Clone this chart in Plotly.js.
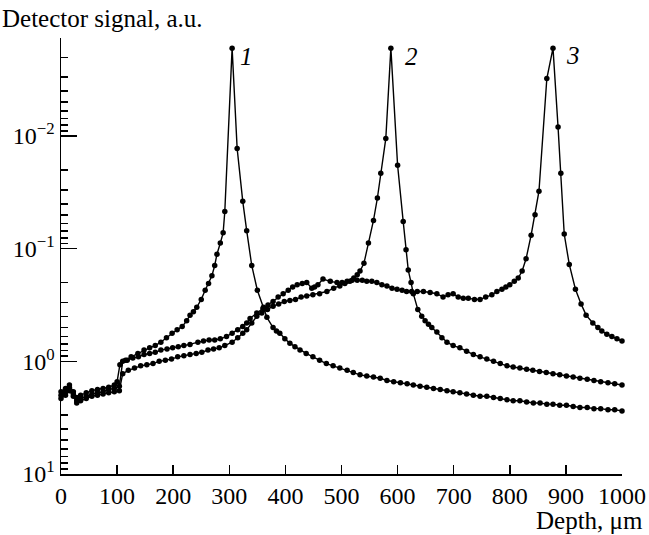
<!DOCTYPE html>
<html>
<head>
<meta charset="utf-8">
<script src="https://cdn.plot.ly/plotly-3.0.1.min.js"></script>
<style>html,body{margin:0;padding:0;background:#fff;}#chart{width:649px;height:535px;}</style>
</head>
<body>
<div id="chart"></div>
<script>
// Curve 1 (focus near 305 um)
const depth1 = [0,8,15,22,28,35,45,55,65,75,85,95,100,105,115,125,137,148,158,168,178,188,198,207,216,224,230,236,242,250,257,263,269,274,278,284,289,292,305,314,324,331,340,350,361,367,378,384,390,399,408,417,426,437,449,461,473,485,497,510,521,533,545,557,569,581,593,605,617,628,640,652,664,676,688,699,711,723,735,747,759,771,783,795,806,818,830,842,854,866,877,889,901,913,925,938,950,962,975,987,1000];
const signal1 = [1.862,1.738,1.622,1.862,2.089,1.995,1.905,1.820,1.778,1.738,
1.698,1.622,1.514,1.072,0.977,0.912,0.851,0.794,0.759,0.724,
0.676,0.617,0.562,0.525,0.490,0.437,0.389,0.363,0.331,0.282,
0.234,0.204,0.174,0.141,0.112,0.0891,0.0724,0.0468,0.00166,0.0129,
0.0380,0.0692,0.141,0.234,0.331,0.407,0.501,0.537,0.562,0.631,
0.692,0.741,0.794,0.851,0.912,0.977,1.047,1.096,1.148,1.202,
1.259,1.318,1.349,1.380,1.413,1.479,1.514,1.549,1.585,1.622,
1.660,1.698,1.738,1.778,1.820,1.862,1.905,1.950,1.995,2.042,
2.042,2.089,2.138,2.188,2.239,2.239,2.291,2.344,2.344,2.399,
2.399,2.455,2.455,2.512,2.570,2.570,2.630,2.630,2.692,2.692,
2.754];

// Curve 2 (focus near 588 um)
const depth2 = [0,8,15,22,28,35,45,55,65,75,85,95,104,110,120,131,142,153,164,175,186,197,208,219,230,241,251,262,272,282,292,305,315,324,331,340,349,358,368,378,388,398,408,418,428,438,449,461,474,486,497,506,515,522,528,533,540,548,557,564,570,579,588,600,610,615,619,624,628,636,643,649,655,661,670,679,688,699,711,723,735,747,759,771,783,795,806,818,830,841,853,865,877,889,901,913,925,938,950,962,975,987,1000];
const signal2 = [2.138,1.995,1.820,2.042,2.344,2.239,2.138,2.042,1.995,1.950,
1.905,1.862,1.820,1.288,1.202,1.148,1.096,1.072,1.047,1.000,
0.977,0.955,0.912,0.891,0.871,0.851,0.832,0.794,0.776,0.759,
0.724,0.676,0.617,0.562,0.525,0.457,0.398,0.372,0.347,0.324,
0.309,0.295,0.288,0.282,0.269,0.263,0.257,0.251,0.240,0.224,
0.214,0.204,0.195,0.182,0.170,0.158,0.135,0.0891,0.0562,0.0355,
0.0214,0.0105,0.00166,0.0182,0.0575,0.102,0.155,0.200,0.251,0.347,
0.398,0.437,0.468,0.501,0.550,0.617,0.676,0.724,0.759,0.813,
0.871,0.912,0.955,1.000,1.047,1.096,1.122,1.148,1.175,1.202,
1.230,1.259,1.288,1.318,1.349,1.380,1.413,1.445,1.479,1.514,
1.549,1.585,1.622];

// Curve 3 (focus near 877 um)
const depth3 = [0,8,15,22,28,35,45,55,65,75,85,95,104,110,118,128,138,148,158,168,178,189,199,209,219,230,244,254,264,274,284,295,305,315,324,331,337,349,360,369,378,387,396,405,413,421,430,438,447,452,458,467,480,492,501,510,519,528,537,545,554,563,572,581,590,599,608,616,625,635,646,658,670,681,690,699,708,717,726,737,747,757,768,777,786,793,800,808,815,822,829,838,845,852,866,877,886,891,897,906,917,927,936,948,957,964,973,982,991,1000];
const signal3 = [1.995,1.862,1.698,1.950,2.239,2.138,2.042,1.950,1.905,1.862,
1.778,1.738,1.660,1.000,0.977,0.933,0.912,0.871,0.851,0.832,
0.794,0.776,0.759,0.741,0.724,0.708,0.676,0.661,0.646,0.646,
0.631,0.603,0.562,0.525,0.490,0.457,0.417,0.372,0.339,0.316,
0.295,0.269,0.251,0.234,0.219,0.209,0.204,0.200,0.224,0.219,
0.209,0.186,0.195,0.200,0.200,0.195,0.191,0.191,0.191,0.195,
0.195,0.200,0.209,0.214,0.224,0.229,0.234,0.240,0.240,0.240,
0.240,0.245,0.251,0.269,0.257,0.251,0.269,0.275,0.275,0.282,
0.282,0.269,0.257,0.240,0.229,0.219,0.209,0.195,0.182,0.158,
0.123,0.0759,0.0501,0.0309,0.00309,0.00166,0.00832,0.0214,0.0741,0.138,
0.229,0.309,0.389,0.457,0.501,0.537,0.575,0.603,0.631,0.661];

const curveLabels = ['1','2','3'];
const labelDepths = [330, 624, 913];
const labelSignal = [0.00195, 0.00195, 0.00191];

const xTickVals = [0,100,200,300,400,500,600,700,800,900,1000];
const yTickVals = [10, 1, 0.1, 0.01];
const yTickText = ['10<sup>1</sup>','10<sup>0</sup>','10<sup>\u22121</sup>','10<sup>\u22122</sup>'];
const yMinorVals = [0.002,0.003,0.004,0.005,0.006,0.007,0.008,0.009,
  0.02,0.03,0.04,0.05,0.06,0.07,0.08,0.09,
  0.2,0.3,0.4,0.5,0.6,0.7,0.8,0.9,
  2,3,4,5,6,7,8,9];

const FONT = 'Liberation Serif, Times New Roman, serif';

function trace(x, y) {
  return {
    x: x, y: y, type: 'scatter', mode: 'lines+markers',
    line: {color: '#000', width: 1.4},
    marker: {color: '#000', size: 5.5, symbol: 'circle'},
    cliponaxis: false, showlegend: false, hoverinfo: 'skip'
  };
}

const data = [trace(depth1, signal1), trace(depth2, signal2), trace(depth3, signal3)];

const annotations = curveLabels.map((t, i) => ({
  x: labelDepths[i], y: Math.log10(labelSignal[i]), xref: 'x', yref: 'y',
  text: '<i>' + t + '</i>', showarrow: false,
  font: {family: FONT, size: 25, color: '#000'}
}));
annotations.push({
  x: 0, y: 1, xref: 'paper', yref: 'paper', xanchor: 'left', yanchor: 'bottom',
  xshift: -61, yshift: 4,
  text: 'Detector signal, a.u.', showarrow: false,
  font: {family: FONT, size: 25, color: '#000'}
});
annotations.push({
  x: 1, y: 0, xref: 'paper', yref: 'paper', xanchor: 'right', yanchor: 'top',
  xshift: 23, yshift: -31,
  text: 'Depth, \u03bcm', showarrow: false,
  font: {family: FONT, size: 25, color: '#000'}
});

const layout = {
  width: 649, height: 535,
  margin: {l: 61, r: 27, t: 38, b: 61},
  paper_bgcolor: '#fff', plot_bgcolor: '#fff',
  font: {family: FONT, size: 24, color: '#000'},
  xaxis: {
    range: [0, 1000], tickmode: 'array', tickvals: xTickVals,
    ticks: 'inside', ticklen: 9, tickwidth: 1.5, tickcolor: '#000',
    showline: true, linewidth: 1.5, linecolor: '#000', mirror: false,
    showgrid: false, zeroline: false,
    tickfont: {family: FONT, size: 24, color: '#000'}
  },
  yaxis: {
    type: 'log', range: [1, -2.87],
    tickmode: 'array', tickvals: yTickVals, ticktext: yTickText,
    ticks: 'inside', ticklen: 16, tickwidth: 1.5, tickcolor: '#000',
    minor: {tickmode: 'array', tickvals: yMinorVals, ticks: 'inside', ticklen: 7, tickwidth: 1.5, tickcolor: '#000', showgrid: false},
    showline: true, linewidth: 1.5, linecolor: '#000',
    showgrid: false, zeroline: false,
    tickfont: {family: FONT, size: 24, color: '#000'}
  },
  annotations: annotations
};

Plotly.newPlot('chart', data, layout, {displayModeBar: false, staticPlot: true});
</script>
</body>
</html>
